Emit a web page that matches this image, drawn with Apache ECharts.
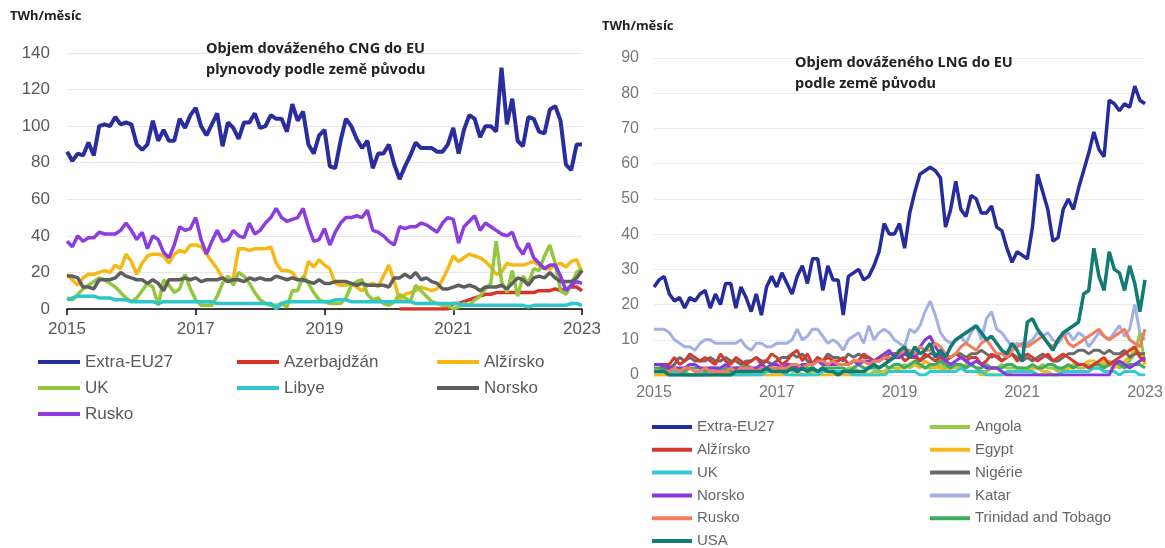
<!DOCTYPE html>
<html>
<head>
<meta charset="utf-8">
<title></title>
<style type="text/css">
	body{ margin:0; background:#fff; }
	#cng{ position:absolute; left:0; top:0; width:610px; height:548px; }
	#lng{ position:absolute; left:590px; top:0; width:575px; height:548px; }
</style>
</head>
<body>
<div id="cng"></div>
<div id="lng"></div>
<script src="https://cdn.jsdelivr.net/npm/echarts@6/dist/echarts.min.js" type="text/javascript" charset="utf-8"></script>
<script type="text/javascript">
// mesice 2015-01 .. 2023-01
var months = [];
for (var y = 2015; y <= 2022; y++) {
	for (var m = 1; m <= 12; m++) months.push(y + '-' + (m < 10 ? '0' + m : m));
}
months.push('2023-01');

// ---- CNG plynovody (TWh/mesic) ----
var cngExtra = [
	86, 81, 85, 84, 91, 84, 100, 101, 100, 105, 101, 102,
	101, 90, 87, 90, 103, 92, 98, 92, 92, 104, 99, 106,
	110, 100, 95, 101, 107, 89, 102, 99, 93, 102, 102, 107,
	99, 100, 106, 104, 104, 97, 112, 103, 108, 90, 85, 95,
	98, 78, 77, 92, 104, 100, 93, 88, 92, 77, 85, 85,
	90, 79, 71, 78, 84, 91, 88, 88, 88, 86, 86, 90,
	99, 85, 98, 106, 104, 94, 100, 100, 97, 132, 101, 115,
	92, 89, 105, 104, 97, 96, 109, 111, 103, 79, 76, 90,
	90];
var cngAzer = [
	null, null, null, null, null, null, null, null, null, null, null, null,
	null, null, null, null, null, null, null, null, null, null, null, null,
	null, null, null, null, null, null, null, null, null, null, null, null,
	null, null, null, null, null, null, null, null, null, null, null, null,
	null, null, null, null, null, null, null, null, null, null, null, null,
	null, null, 0, 0, 0, 0, 0, 0, 0, 0, 0, 0,
	3, 3, 4, 5, 6, 7, 8, 8, 9, 9, 9, 9,
	9, 9, 9, 9, 10, 10, 10, 11, 10, 11, 12, 12,
	10];
var cngAlz = [
	19, 16, 13, 17, 19, 19, 20, 21, 20, 24, 22, 30,
	26, 19, 25, 29, 30, 30, 29, 25, 30, 32, 31, 35,
	35, 34, 30, 26, 22, 17, 15, 17, 33, 33, 32, 33,
	33, 33, 34, 25, 21, 21, 20, 16, 15, 26, 23, 27,
	24, 22, 14, 13, 13, 14, 12, 10, 13, 14, 12, 18,
	24, 15, 5, 8, 9, 10, 12, 11, 10, 11, 16, 22,
	29, 26, 28, 30, 29, 28, 26, 23, 19, 20, 25, 24,
	24, 24, 25, 26, 24, 22, 22, 24, 25, 23, 26, 27,
	20];
var cngUK = [
	6, 5, 8, 11, 13, 15, 17, 16, 14, 12, 9, 6,
	4, 6, 10, 14, 12, 2, 16, 13, 9, 11, 19, 11,
	5, 2, 2, 2, 7, 14, 18, 13, 20, 18, 14, 9,
	5, 3, 2, 2, 3, 1, 10, 10, 18, 14, 9, 5,
	4, 3, 3, 3, 6, 13, 15, 16, 8, 5, 6, 3,
	2, 4, 8, 6, 4, 13, 10, 7, 4, 3, 2, 2,
	0, 1, 3, 2, 5, 7, 11, 14, 37, 15, 9, 21,
	7, 18, 14, 22, 21, 29, 35, 25, 10, 8, 13, 20,
	22];
var cngLib = [
	5, 6, 7, 7, 7, 7, 6, 6, 6, 5, 5, 5,
	4, 4, 4, 4, 4, 3, 4, 4, 4, 4, 4, 4,
	4, 4, 4, 4, 3, 3, 3, 3, 3, 3, 3, 3,
	3, 3, 3, 0, 3, 4, 4, 4, 4, 4, 4, 4,
	4, 4, 5, 5, 5, 4, 4, 4, 4, 4, 4, 4,
	4, 4, 4, 4, 4, 3, 3, 3, 3, 3, 3, 3,
	3, 3, 2, 2, 2, 2, 2, 2, 2, 2, 2, 2,
	2, 2, 1, 2, 2, 2, 2, 2, 2, 2, 3, 3,
	2];
var cngNor = [
	18, 18, 17, 12, 12, 11, 16, 16, 16, 17, 20, 18,
	17, 16, 16, 14, 16, 14, 10, 16, 16, 16, 17, 16,
	17, 15, 16, 16, 16, 17, 15, 16, 16, 15, 17, 16,
	17, 16, 16, 18, 17, 16, 17, 16, 16, 15, 14, 16,
	14, 14, 15, 15, 15, 14, 13, 14, 13, 13, 13, 13,
	12, 17, 17, 19, 17, 20, 16, 17, 15, 14, 11, 11,
	12, 13, 12, 13, 12, 10, 12, 12, 12, 13, 11, 14,
	17, 16, 13, 17, 18, 17, 20, 17, 15, 15, 15, 17,
	21];
var cngRus = [
	37, 34, 40, 37, 39, 39, 42, 41, 41, 41, 43, 47,
	43, 38, 42, 33, 40, 38, 31, 28, 35, 45, 43, 44,
	50, 38, 30, 37, 43, 37, 38, 43, 40, 39, 47, 41,
	43, 47, 50, 55, 50, 48, 49, 50, 55, 45, 37, 38,
	44, 35, 42, 47, 50, 50, 51, 50, 54, 43, 42, 40,
	37, 35, 45, 44, 45, 45, 47, 46, 44, 42, 47, 50,
	49, 36, 45, 48, 51, 43, 47, 45, 43, 41, 40, 42,
	34, 30, 36, 28, 25, 22, 24, 24, 18, 10, 13, 15,
	14];

// ---- LNG (TWh/mesic) ----
var lngExtra = [
	25, 27, 28, 23, 21, 22, 19, 22, 21, 23, 24, 19,
	23, 20, 26, 26, 19, 25, 22, 18, 23, 17, 25, 28,
	25, 29, 26, 23, 28, 31, 26, 33, 33, 24, 31, 27,
	27, 17, 28, 29, 30, 27, 28, 31, 35, 43, 40, 40,
	43, 36, 46, 52, 57, 58, 59, 58, 56, 42, 47, 55,
	47, 45, 51, 50, 46, 46, 48, 42, 41, 36, 32, 35,
	34, 33, 42, 57, 52, 47, 38, 39, 47, 50, 47, 53,
	58, 63, 69, 64, 62, 78, 77, 75, 77, 76, 82, 78,
	77];
var lngAlz = [
	3, 3, 3, 3, 5, 3, 4, 6, 5, 4, 5, 4,
	3, 6, 4, 3, 5, 4, 3, 4, 5, 3, 4, 6,
	5, 3, 4, 6, 7, 4, 6, 3, 5, 4, 5, 4,
	4, 5, 3, 4, 4, 6, 5, 4, 4, 5, 4, 6,
	6, 4, 5, 5, 4, 6, 5, 4, 5, 4, 5, 6,
	5, 4, 5, 5, 3, 4, 6, 5, 4, 5, 6, 4,
	5, 6, 5, 4, 5, 6, 4, 5, 6, 5, 4, 3,
	3, 2, 3, 4, 5, 3, 4, 5, 6, 7, 8, 5,
	4];
var lngUK = [
	1, 1, 1, 1, 1, 1, 0, 0, 0, 0, 1, 1,
	1, 0, 0, 0, 0, 0, 0, 0, 0, 0, 1, 1,
	1, 1, 0, 0, 0, 0, 0, 0, 0, 1, 1, 1,
	1, 1, 1, 0, 0, 0, 0, 0, 0, 0, 1, 1,
	1, 1, 1, 1, 0, 0, 1, 1, 1, 1, 1, 1,
	2, 1, 1, 1, 1, 0, 0, 0, 0, 1, 1, 1,
	1, 1, 1, 0, 0, 0, 0, 0, 1, 1, 1, 1,
	1, 1, 2, 2, 1, 1, 1, 0, 1, 1, 1, 0,
	0];
var lngNor = [
	3, 3, 3, 2, 2, 2, 2, 3, 3, 2, 2, 2,
	2, 2, 3, 2, 2, 2, 2, 2, 2, 3, 2, 3,
	3, 2, 3, 3, 2, 3, 3, 3, 4, 3, 3, 3,
	3, 3, 3, 4, 3, 4, 4, 4, 5, 6, 7, 5,
	5, 6, 7, 5, 8, 10, 11, 8, 6, 4, 3, 4,
	5, 4, 3, 4, 3, 2, 2, 2, 1, 0, 0, 0,
	0, 0, 0, 0, 0, 0, 0, 0, 0, 0, 0, 0,
	0, 0, 0, 0, 0, 0, 3, 4, 3, 2, 3, 4,
	5];
var lngRus = [
	1, 1, 1, 1, 2, 1, 2, 2, 1, 1, 2, 1,
	1, 1, 1, 2, 1, 2, 2, 2, 1, 2, 2, 2,
	2, 2, 2, 3, 3, 2, 3, 3, 4, 4, 3, 4,
	3, 3, 3, 4, 4, 4, 3, 4, 4, 5, 5, 5,
	6, 7, 7, 6, 8, 7, 7, 9, 8, 6, 5, 6,
	8, 9, 8, 7, 9, 10, 8, 6, 6, 5, 7, 8,
	9, 8, 9, 10, 11, 9, 8, 10, 12, 9, 8, 9,
	10, 11, 12, 13, 11, 10, 11, 12, 13, 10, 9, 8,
	13];
var lngUSA = [
	1, 1, 1, 0, 0, 0, 0, 0, 0, 0, 0, 0,
	0, 0, 0, 0, 1, 1, 1, 1, 1, 1, 2, 1,
	1, 1, 1, 2, 1, 2, 1, 2, 1, 2, 1, 1,
	0, 1, 1, 1, 1, 1, 2, 3, 2, 3, 4, 5,
	7, 8, 5, 8, 6, 7, 9, 5, 7, 5, 8, 10,
	11, 12, 13, 14, 12, 10, 11, 9, 7, 6, 9, 7,
	4, 15, 16, 13, 11, 9, 7, 10, 12, 13, 14, 15,
	23, 24, 36, 28, 24, 35, 30, 29, 24, 31, 26, 18,
	27];
var lngAngola = [
	0, 0, 0, 0, 1, 1, 1, 0, 0, 0, 0, 0,
	1, 1, 1, 1, 0, 0, 0, 1, 1, 1, 1, 1,
	1, 1, 2, 1, 1, 0, 0, 1, 1, 2, 1, 1,
	1, 1, 2, 2, 1, 1, 0, 1, 1, 1, 2, 2,
	2, 3, 2, 3, 3, 2, 2, 2, 3, 2, 3, 3,
	2, 3, 3, 2, 1, 1, 2, 2, 3, 2, 2, 2,
	2, 1, 2, 2, 3, 2, 2, 1, 2, 2, 3, 2,
	2, 3, 2, 2, 3, 4, 3, 2, 3, 4, 6, 12,
	3];
var lngEgypt = [
	0, 0, 0, 0, 0, 0, 0, 0, 0, 0, 0, 0,
	0, 0, 0, 0, 0, 0, 0, 0, 0, 0, 0, 0,
	0, 0, 0, 0, 0, 0, 0, 0, 0, 0, 0, 0,
	0, 0, 0, 0, 0, 0, 0, 0, 0, 1, 1, 1,
	2, 2, 3, 3, 2, 4, 3, 2, 2, 1, 2, 2,
	2, 1, 1, 1, 0, 0, 0, 0, 0, 0, 1, 1,
	1, 2, 2, 2, 1, 1, 0, 0, 1, 2, 2, 3,
	3, 4, 4, 3, 4, 3, 2, 3, 4, 5, 8, 6,
	3];
var lngNig = [
	3, 3, 2, 2, 3, 5, 4, 5, 4, 4, 4, 5,
	4, 4, 5, 4, 4, 3, 4, 4, 5, 4, 4, 3,
	4, 5, 5, 6, 5, 6, 4, 3, 5, 4, 6, 5,
	5, 4, 6, 5, 6, 5, 5, 4, 5, 5, 6, 6,
	5, 6, 5, 6, 4, 5, 6, 6, 5, 6, 5, 6,
	6, 5, 6, 6, 7, 6, 5, 6, 4, 5, 6, 5,
	4, 5, 4, 5, 6, 5, 4, 4, 5, 6, 6, 7,
	7, 6, 7, 7, 6, 7, 6, 6, 7, 5, 6, 6,
	6];
var lngKatar = [
	13, 13, 13, 12, 10, 9, 8, 8, 7, 9, 10, 10,
	9, 9, 9, 9, 9, 10, 8, 7, 9, 9, 8, 8,
	9, 9, 9, 10, 13, 10, 11, 13, 13, 11, 9, 10,
	9, 7, 10, 11, 12, 9, 14, 10, 12, 13, 12, 10,
	9, 8, 13, 12, 14, 18, 21, 17, 12, 10, 9, 10,
	11, 9, 12, 14, 10, 16, 18, 13, 12, 10, 8, 9,
	8, 9, 10, 12, 11, 12, 10, 9, 11, 12, 10, 12,
	11, 8, 10, 12, 11, 10, 12, 14, 11, 13, 20, 12,
	10];
var lngTrin = [
	2, 2, 1, 2, 2, 1, 1, 2, 2, 2, 1, 2,
	2, 1, 2, 1, 2, 2, 3, 2, 1, 2, 2, 2,
	2, 1, 1, 2, 2, 3, 2, 2, 1, 2, 2, 2,
	2, 2, 1, 2, 3, 2, 2, 2, 2, 3, 2, 3,
	3, 2, 3, 4, 3, 2, 3, 3, 4, 3, 2, 3,
	3, 2, 3, 2, 2, 3, 2, 2, 2, 3, 3, 2,
	2, 2, 3, 2, 2, 3, 3, 2, 2, 3, 2, 3,
	3, 2, 3, 3, 2, 3, 4, 3, 2, 3, 3, 3,
	2];

// pomocne funkce
function line(name, data, color, width) {
	return {
		type: 'line', name: name, data: data,
		symbol: 'none', showSymbol: false,
		lineStyle: { color: color, width: width },
		itemStyle: { color: color }
	};
}
function everyTwoYears(index) { return index % 24 === 0; }
function yearOnly(v) { return v.slice(0, 4); }

// ---------- levy graf: CNG ----------
var cngChart = echarts.init(document.getElementById('cng'));
var cngLegend = {
	orient: 'vertical', top: 352, padding: 0, icon: 'rect', itemWidth: 42, itemHeight: 4, itemGap: 6,
	textStyle: { color: '#595959', fontSize: 17, lineHeight: 20, fontFamily: 'Liberation Sans' }
};
cngChart.setOption({
	animation: false,
	title: [
		{ text: 'TWh/měsíc', left: 10, top: 10, padding: 0,
		  textStyle: { fontSize: 13, fontWeight: 'bold', color: '#222', fontFamily: 'Noto Sans' } },
		{ text: 'Objem dováženého CNG do EU\nplynovody podle země původu', left: 206, top: 38, padding: 0,
		  textStyle: { fontSize: 14.5, fontWeight: 'bold', color: '#222', lineHeight: 21, fontFamily: 'Noto Sans' } }
	],
	legend: [
		Object.assign({ left: 38, data: ['Extra-EU27', 'UK', 'Rusko'] }, cngLegend),
		Object.assign({ left: 237, data: ['Azerbajdžán', 'Libye'] }, cngLegend),
		Object.assign({ left: 437, data: ['Alžírsko', 'Norsko'] }, cngLegend)
	],
	grid: { left: 67, top: 53, width: 515, height: 256, outerBoundsMode: 'none' },
	xAxis: {
		type: 'category', data: months, boundaryGap: false,
		axisLine: { lineStyle: { color: '#000', width: 1.5 } },
		axisTick: { interval: everyTwoYears, length: 6, lineStyle: { color: '#000', width: 1.5 } },
		axisLabel: { interval: everyTwoYears, formatter: yearOnly, color: '#595959', fontSize: 17,
			margin: 12, fontFamily: 'Liberation Sans' }
	},
	yAxis: {
		type: 'value', min: 0, max: 140, interval: 20,
		splitLine: { lineStyle: { color: '#e6e6e6' } },
		axisLabel: { color: '#595959', fontSize: 17, margin: 17, fontFamily: 'Liberation Sans' }
	},
	series: [
		line('Extra-EU27', cngExtra, '#2a2d9e', 4),
		line('Azerbajdžán', cngAzer, '#d8332a', 3.5),
		line('Alžírsko', cngAlz, '#f7b815', 3.5),
		line('UK', cngUK, '#93c83e', 3.5),
		line('Libye', cngLib, '#2cc6cb', 3.5),
		line('Norsko', cngNor, '#5e5e5e', 3.5),
		line('Rusko', cngRus, '#8c3ce0', 3.5)
	]
});

// ---------- pravy graf: LNG ----------
var lngChart = echarts.init(document.getElementById('lng'));
var lngCols = [
	['Extra-EU27', 'Alžírsko', 'UK', 'Norsko', 'Rusko', 'USA'],
	['Angola', 'Egypt', 'Nigérie', 'Katar', 'Trinidad and Tobago']
];
var lngLegends = [];
lngCols.forEach(function (col, c) {
	col.forEach(function (name, r) {
		lngLegends.push({
			left: c === 0 ? 62 : 340, top: 419.5 + r * 22.8, padding: 0,
			icon: 'rect', itemWidth: 40, itemHeight: 4, data: [name],
			textStyle: { color: '#666', fontSize: 15, fontFamily: 'Liberation Sans' }
		});
	});
});
lngChart.setOption({
	animation: false,
	title: [
		{ text: 'TWh/měsíc', left: 12, top: 20, padding: 0,
		  textStyle: { fontSize: 13, fontWeight: 'bold', color: '#222', fontFamily: 'Noto Sans' } },
		{ text: 'Objem dováženého LNG do EU\npodle země původu', left: 205, top: 52, padding: 0,
		  textStyle: { fontSize: 14.5, fontWeight: 'bold', color: '#222', lineHeight: 21, fontFamily: 'Noto Sans' } }
	],
	legend: lngLegends,
	grid: { left: 64, top: 58, width: 491, height: 317, outerBoundsMode: 'none' },
	xAxis: {
		type: 'category', data: months, boundaryGap: false,
		axisLine: { show: false },
		axisTick: { show: false },
		axisLabel: { interval: everyTwoYears, formatter: yearOnly, color: '#777', fontSize: 16,
			margin: 10, fontFamily: 'Liberation Sans' }
	},
	yAxis: {
		type: 'value', min: 0, max: 90, interval: 10,
		splitLine: { lineStyle: { color: '#ececec' } },
		axisLabel: { color: '#777', fontSize: 16, margin: 15, fontFamily: 'Liberation Sans' }
	},
	series: [
		line('Katar', lngKatar, '#a3b0e2', 3),
		line('Angola', lngAngola, '#96c94a', 3),
		line('Egypt', lngEgypt, '#f4b81a', 3),
		line('UK', lngUK, '#2ccbd1', 3),
		line('Trinidad and Tobago', lngTrin, '#3fab5f', 3),
		line('Nigérie', lngNig, '#6a6a6a', 3),
		line('Alžírsko', lngAlz, '#d63a2f', 3),
		line('Norsko', lngNor, '#8a36e0', 3),
		line('Rusko', lngRus, '#f07d5e', 3),
		line('USA', lngUSA, '#117b74', 3.5),
		line('Extra-EU27', lngExtra, '#262c9c', 3.5)
	]
});
</script>
</body>
</html>
